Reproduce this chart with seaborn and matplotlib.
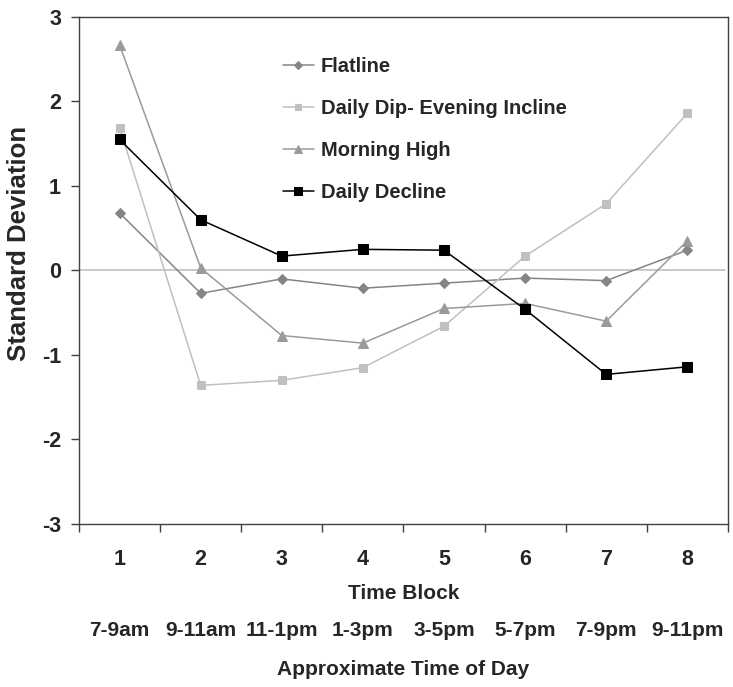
import matplotlib
matplotlib.use("Agg")
import matplotlib.pyplot as plt
import numpy as np
import pandas as pd
import seaborn as sns

# values
blocks = [1, 2, 3, 4, 5, 6, 7, 8]
times = ["7-9am", "9-11am", "11-1pm", "1-3pm", "3-5pm", "5-7pm", "7-9pm", "9-11pm"]
flatline = [0.68, -0.27, -0.10, -0.21, -0.15, -0.09, -0.12, 0.24]
dip_incline = [1.69, -1.36, -1.30, -1.15, -0.66, 0.17, 0.79, 1.86]
morning_high = [2.67, 0.03, -0.77, -0.86, -0.45, -0.39, -0.60, 0.35]
daily_decline = [1.55, 0.60, 0.17, 0.25, 0.24, -0.46, -1.23, -1.14]

series = {
    "Flatline": flatline,
    "Daily Dip- Evening Incline": dip_incline,
    "Morning High": morning_high,
    "Daily Decline": daily_decline,
}
colors = {"Flatline": "#858585", "Daily Dip- Evening Incline": "#c0c0c0",
          "Morning High": "#9a9a9a", "Daily Decline": "#000000"}
markers = {"Flatline": "D", "Daily Dip- Evening Incline": "s",
           "Morning High": "^", "Daily Decline": "s"}
msizes = {"Flatline": 5, "Daily Dip- Evening Incline": 6,
          "Morning High": 7, "Daily Decline": 7}

df = pd.concat([pd.DataFrame({"block": blocks, "sd": v, "pattern": k})
                for k, v in series.items()], ignore_index=True)

sns.set_style("white")
plt.rcParams["font.family"] = ["Liberation Sans", "DejaVu Sans"]
plt.rcParams["axes.unicode_minus"] = False

fig = plt.figure(figsize=(7.33, 6.87), dpi=100)
ax = fig.add_axes([0.1078, 0.2373, 0.8852, 0.738])

ax.axhline(0, color="#c0c0c0", lw=1.2, zorder=1, xmax=0.995)

for name in series:
    sub = df[df["pattern"] == name]
    sns.lineplot(data=sub, x="block", y="sd", ax=ax, color=colors[name],
                 marker=markers[name], markersize=msizes[name],
                 markeredgecolor=colors[name], lw=1.1, label=name, zorder=3)

ax.set_xlim(0.5, 8.5)
ax.set_ylim(-3, 3)
ax.set_yticks(range(-3, 4))
ax.set_xticks(blocks)
ax.set_xticks(np.arange(0.5, 9, 1), minor=True)
ax.tick_params(axis="x", which="major", length=0, pad=18, labelsize=15.5)
ax.tick_params(axis="x", which="minor", length=6, width=1, direction="out",
               color="#404040", bottom=True)
ax.tick_params(axis="y", length=6, width=1, direction="out", color="#404040",
               left=True, pad=7, labelsize=15.5)
for lab in ax.get_xticklabels() + ax.get_yticklabels():
    lab.set_fontweight("bold")

for s in ax.spines.values():
    s.set_color("#404040")
    s.set_linewidth(1.0)

ax.set_xlabel("Time Block", fontsize=15, fontweight="bold")
ax.xaxis.set_label_coords(0.5, -0.119)
ax.set_ylabel("Standard Deviation", fontsize=18.5, fontweight="bold")
ax.yaxis.set_label_coords(-0.074, 0.554)

xt = ax.get_xaxis_transform()
for b, t in zip(blocks, times):
    ax.text(b, -0.211, t, transform=xt, ha="center", va="center",
            fontsize=15, fontweight="bold")
ax.text(0.5, -0.287, "Approximate Time of Day", transform=ax.transAxes,
        ha="center", va="center", fontsize=15, fontweight="bold")

leg = ax.legend(loc="upper left", bbox_to_anchor=(0.286, 0.957), frameon=False,
                handlelength=1.55, handletextpad=0.35, markerscale=0.75,
                labelspacing=1.15, prop={"weight": "bold", "size": 14.5})

fig.savefig("out.png", dpi=100)
